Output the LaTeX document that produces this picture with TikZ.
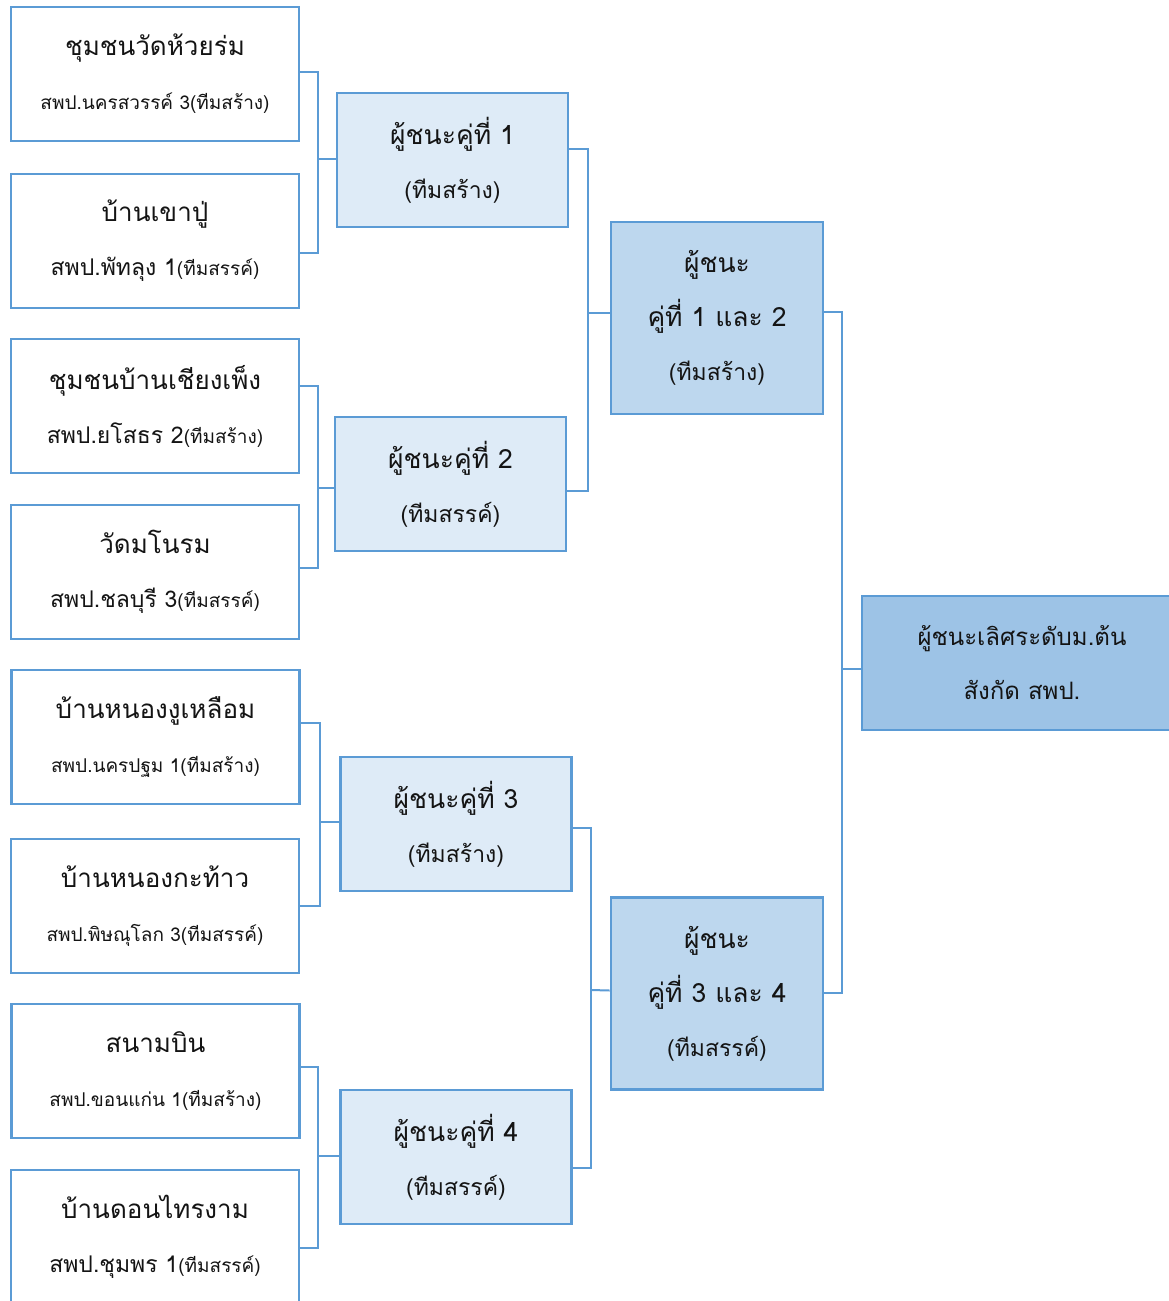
\documentclass[tikz,border=0pt]{standalone}
\usepackage{fontspec}
\newfontfamily\thai[Script=Thai]{Loma}
\definecolor{bord}{RGB}{91,155,213}
\definecolor{fillA}{RGB}{222,235,247}
\definecolor{fillB}{RGB}{189,215,238}
\definecolor{fillC}{RGB}{157,195,230}
\definecolor{ink}{RGB}{20,20,20}
\newcommand\txA[1]{{\fontsize{26}{54}\selectfont #1}}
\newcommand\txB[1]{{\fontsize{23}{54}\selectfont #1}}
\newcommand\txC[1]{{\fontsize{19}{54}\selectfont #1}}
\newcommand\txD[1]{{\fontsize{24}{52}\selectfont #1}}
\tikzset{
  box/.style={draw=bord, line width=2.6pt, align=center, inner sep=0pt,
    text=ink, font=\thai\fontsize{26.5}{54}\selectfont},
  team/.style={box, fill=white, minimum width=288pt, minimum height=134pt},
  win/.style={box, fill=fillA, minimum width=231pt, minimum height=134pt},
  semi/.style={box, fill=fillB, minimum width=212pt, minimum height=192pt},
  final/.style={box, fill=fillC, minimum width=320pt, minimum height=134pt},
  conn/.style={draw=bord, line width=2pt}
}
\begin{document}
\begin{tikzpicture}[x=1pt,y=-1pt]
\clip (0,0) rectangle (1169,1301);
\fill[white] (0,0) rectangle (1169,1301);
% first round
\node[team] (b1) at (155,74) {\txA{ชุมชนวัดห้วยร่ม}\\\txC{สพป.นครสวรรค์ 3(ทีมสร้าง)}};
\node[team] (b2) at (155,241) {\txA{บ้านเขาปู่}\\\txB{สพป.พัทลุง 1}\txC{(ทีมสรรค์)}};
\node[team] (b3) at (155,406) {\txA{ชุมชนบ้านเชียงเพ็ง}\\\txB{สพป.ยโสธร 2}\txC{(ทีมสร้าง)}};
\node[team] (b4) at (155,572) {\txA{วัดมโนรม}\\\txB{สพป.ชลบุรี 3}\txC{(ทีมสรรค์)}};
\node[team] (b5) at (155.5,737) {\txA{บ้านหนองงูเหลือม}\\\txC{สพป.นครปฐม 1(ทีมสร้าง)}};
\node[team] (b6) at (155,906) {\txA{บ้านหนองกะท้าว}\\\txC{สพป.พิษณุโลก 3(ทีมสรรค์)}};
\node[team] (b7) at (155.5,1071) {\txA{สนามบิน}\\\txC{สพป.ขอนแก่น 1(ทีมสร้าง)}};
\node[team] (b8) at (155,1237) {\txA{บ้านดอนไทรงาม}\\\txB{สพป.ชุมพร 1}\txC{(ทีมสรรค์)}};
% second round
\node[win] (w1) at (452.5,160) {ผู้ชนะคู่ที่ 1\\\txB{(ทีมสร้าง)}};
\node[win] (w2) at (450.5,484) {ผู้ชนะคู่ที่ 2\\\txB{(ทีมสรรค์)}};
\node[win] (w3) at (456,824) {ผู้ชนะคู่ที่ 3\\\txB{(ทีมสร้าง)}};
\node[win] (w4) at (456,1157) {ผู้ชนะคู่ที่ 4\\\txB{(ทีมสรรค์)}};
% semi
\node[semi] (s12) at (717,318) {ผู้ชนะ\\คู่ที่ 1 และ 2\\\txB{(ทีมสร้าง)}};
\node[semi] (s34) at (717,993.5) {ผู้ชนะ\\คู่ที่ 3 และ 4\\\txB{(ทีมสรรค์)}};
% final
\node[final] (fin) at (1022,663) {\txD{ผู้ชนะเลิศระดับม.ต้น}\\\txD{สังกัด สพป.}};
% junctions
\coordinate (j1) at (318,159);
\coordinate (j2) at (318,488);
\coordinate (j3) at (320,822);
\coordinate (j4) at (318,1156);
\coordinate (k1) at (588,313);
\coordinate (k2) at (591,990);
\coordinate (m1) at (842,669);
% brackets
\draw[conn] ([yshift=2pt]b1.east) -| (j1) |- ([yshift=-12pt]b2.east);
\draw[conn] (j1) -- ([yshift=1pt]w1.west);
\draw[conn] ([yshift=20pt]b3.east) -| (j2) |- ([yshift=4pt]b4.east);
\draw[conn] (j2) -- ([yshift=-4pt]w2.west);
\draw[conn] ([yshift=14pt]b5.east) -| (j3) |- (b6.east);
\draw[conn] (j3) -- ([yshift=2pt]w3.west);
\draw[conn] ([yshift=4pt]b7.east) -| (j4) |- ([yshift=-11pt]b8.east);
\draw[conn] (j4) -- ([yshift=1pt]w4.west);
\draw[conn] ([yshift=11pt]w1.east) -| (k1) |- ([yshift=-7pt]w2.east);
\draw[conn] (k1) -- ([yshift=5pt]s12.west);
\draw[conn] ([yshift=-4pt]w3.east) -| (k2) |- ([yshift=-11pt]w4.east);
\draw[conn] (k2) -- ([yshift=3pt]s34.west);
\draw[conn] ([yshift=6pt]s12.east) -| (m1) |- ([yshift=1pt]s34.east);
\draw[conn] (m1) -- ([yshift=-6pt]fin.west);
\end{tikzpicture}
\end{document}
